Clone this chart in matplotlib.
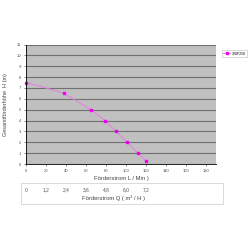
import matplotlib
matplotlib.use('Agg')
import matplotlib.pyplot as plt
from matplotlib.patches import Rectangle
import matplotlib.transforms as mtransforms

plt.rcParams['font.family'] = ['Liberation Sans', 'DejaVu Sans']

# Förderstrom L/min und Förderhöhe m
flow = [0, 20, 38, 65, 79, 90, 101, 112, 120]
head = [7.5, 7.0, 6.5, 5.0, 4.0, 3.0, 2.0, 1.0, 0.3]
marked = [0, 2, 3, 4, 5, 6, 7, 8]  # punkte mit marker
series_name = '300F250'
x_ticks = [0, 20, 40, 60, 80, 100, 120, 140, 160, 180]
y_ticks = list(range(0, 12))
q_pos = [0, 20, 40, 60, 80, 100, 120]
q_labels = ['0', '1,2', '2,4', '3,6', '4,8', '6,0', '7,2']

fig = plt.figure(figsize=[2.5, 2.5], dpi=100)
ax = fig.add_axes([0.104, 0.344, 0.76, 0.478])
ax.set_facecolor('#c0c0c0')
ax.set_xlim(0, 190)
ax.set_ylim(0, 11)
ax.set_xticks(x_ticks)
ax.set_yticks(y_ticks)
ax.tick_params(labelsize=3, length=1.5, width=0.5, pad=2, colors='#555555')
ax.grid(axis='y', color='#707070', linewidth=0.8)
ax.set_axisbelow(True)
for s in ['top', 'right']:
    ax.spines[s].set_visible(False)
for s in ['left', 'bottom']:
    ax.spines[s].set_linewidth(0.6)
    ax.spines[s].set_color('black')

ax.plot(flow, head, color='#e87ae8', linewidth=0.7, marker='s', markersize=1.6,
        markevery=marked, markerfacecolor='#ee00ee', markeredgecolor='#ee00ee',
        label=series_name, clip_on=False)

ax.set_ylabel('Gesamtförderhöhe  H (m)', fontsize=4, color='#444444', labelpad=6)
ax.set_xlabel('Förderstrom L / Min )', fontsize=4.2, color='#444444', labelpad=2)

leg = ax.legend(loc='upper left', bbox_to_anchor=(1.02, 0.97), fontsize=2.5,
                frameon=True, fancybox=False, handlelength=2, borderpad=0.5,
                handletextpad=0.4)
leg.get_frame().set_edgecolor('#aaaaaa')
leg.get_frame().set_linewidth(0.4)

# second scale box m³/h
fig.patches.append(Rectangle((20.7 / 250, 1 - 204.3 / 250), (223 - 20.7) / 250,
                             (204.3 - 182.7) / 250, transform=fig.transFigure,
                             fill=False, edgecolor='#cccccc', linewidth=0.5))
trans = mtransforms.blended_transform_factory(ax.transData, fig.transFigure)
for p, lab in zip(q_pos, q_labels):
    fig.text(p, 1 - 190 / 250, lab, transform=trans, fontsize=3.5,
             color='#555555', ha='center', va='center')
fig.text(113 / 250, 1 - 198 / 250, 'Förderstrom Q ( m³ / H )', fontsize=4.2,
         color='#444444', ha='center', va='center')

fig.savefig('out.png', dpi=100, facecolor='white')
